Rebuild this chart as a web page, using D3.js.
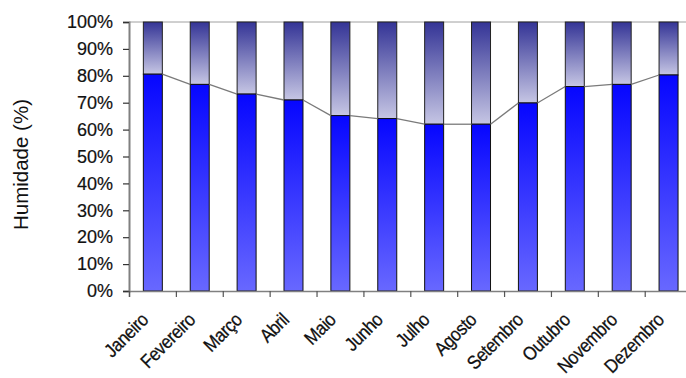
<!DOCTYPE html>
<html>
<head>
<meta charset="utf-8">
<script src="https://cdn.jsdelivr.net/npm/d3@7"></script>
<style>
  html, body { margin: 0; padding: 0; background: #fff; }
  svg { display: block; }
  text { font-family: "Liberation Sans", Arial, sans-serif; fill: #111; }
</style>
</head>
<body>
<svg id="chart" width="686" height="378"></svg>
<script>
// Monthly relative humidity (%)
const months = ["Janeiro", "Fevereiro", "Março", "Abril", "Maio", "Junho",
                "Julho", "Agosto", "Setembro", "Outubro", "Novembro", "Dezembro"];
const humidity = [80.6, 76.8, 73.2, 71.0, 65.2, 64.1, 62.0, 62.0, 69.9, 76.0, 76.8, 80.3];
const yTicks = [0, 10, 20, 30, 40, 50, 60, 70, 80, 90, 100];
const yTitle = "Humidade (%)";

const svg = d3.select("#chart");
const plot = { left: 129, right: 691.6, top: 22, bottom: 291 };

const x = d3.scaleBand().domain(months).range([plot.left, plot.right]).padding(0);
const xEdge = d3.scaleLinear().domain([0, months.length]).range([plot.left, plot.right]);
const y = d3.scaleLinear().domain([0, 100]).range([plot.bottom, plot.top]);
const barW = x.bandwidth() * 0.405;
const barX = m => x(m) + (x.bandwidth() - barW) / 2 + 0.4;

// gradients
const defs = svg.append("defs");
const gBlue = defs.append("linearGradient").attr("id", "gBlue")
  .attr("x1", 0).attr("y1", 0).attr("x2", 0).attr("y2", 1);
gBlue.append("stop").attr("offset", "0%").attr("stop-color", "#0606ff");
gBlue.append("stop").attr("offset", "100%").attr("stop-color", "#6868ff");
const gTop = defs.append("linearGradient").attr("id", "gTop")
  .attr("x1", 0).attr("y1", 0).attr("x2", 0).attr("y2", 1);
gTop.append("stop").attr("offset", "0%").attr("stop-color", "#343496");
gTop.append("stop").attr("offset", "100%").attr("stop-color", "#c6c6e4");

// top border of plot area
svg.append("line")
  .attr("x1", plot.left).attr("x2", 686)
  .attr("y1", plot.top).attr("y2", plot.top)
  .attr("stroke", "#a0a0a0").attr("stroke-width", 1);

// remaining share (upper segment)
svg.append("g").selectAll("rect.rest")
  .data(months)
  .join("rect")
  .attr("class", "rest")
  .attr("x", m => barX(m))
  .attr("width", barW)
  .attr("y", y(100))
  .attr("height", (m, i) => y(humidity[i]) - y(100))
  .attr("fill", "url(#gTop)")
  .attr("stroke", "#222")
  .attr("stroke-width", 1);

// humidity (lower segment)
svg.append("g").selectAll("rect.hum")
  .data(months)
  .join("rect")
  .attr("class", "hum")
  .attr("x", m => barX(m))
  .attr("width", barW)
  .attr("y", (m, i) => y(humidity[i]))
  .attr("height", (m, i) => y(0) - y(humidity[i]))
  .attr("fill", "url(#gBlue)")
  .attr("stroke", "#111")
  .attr("stroke-width", 1);

// series lines joining the tops of neighbouring bars
const pairs = d3.pairs(months.map((m, i) => ({ m, v: humidity[i] })));
svg.append("g").selectAll("line")
  .data(pairs)
  .join("line")
  .attr("x1", d => barX(d[0].m) + barW)
  .attr("y1", d => y(d[0].v))
  .attr("x2", d => barX(d[1].m))
  .attr("y2", d => y(d[1].v))
  .attr("stroke", "#7a7a7a")
  .attr("stroke-width", 1.3);

// y axis
const yAxis = svg.append("g")
  .attr("transform", `translate(${plot.left},0)`)
  .call(d3.axisLeft(y).tickValues(yTicks).tickSize(6).tickPadding(10)
    .tickFormat(d => d + "%"));
yAxis.select(".domain").attr("stroke", "#808080").attr("stroke-width", 2);
yAxis.selectAll(".tick line").attr("stroke", "#333").attr("stroke-width", 1.2);
yAxis.selectAll(".tick text")
  .attr("font-size", 18)
  .attr("font-family", "'Liberation Sans', Arial, sans-serif")
  .attr("fill", "#111")
  .attr("stroke", "#111").attr("stroke-width", 0.2);

// x axis with tick marks between categories
const xAxis = svg.append("g")
  .attr("transform", `translate(0,${plot.bottom})`)
  .call(d3.axisBottom(xEdge).tickValues(d3.range(0, months.length + 1))
    .tickSize(6).tickFormat(""));
xAxis.select(".domain").attr("stroke", "#808080").attr("stroke-width", 1.5);
xAxis.selectAll(".tick line").attr("stroke", "#555").attr("stroke-width", 1.2);

// category labels, rotated
svg.append("g").selectAll("text")
  .data(months)
  .join("text")
  .attr("transform", m => `translate(${x(m) + x.bandwidth() / 2 - 3},321) rotate(-45) scale(1,1.12)`)
  .attr("text-anchor", "end")
  .attr("font-size", 17)
  .attr("letter-spacing", -0.4)
  .attr("stroke", "#111").attr("stroke-width", 0.25)
  .text(m => m);

// y axis title
svg.append("text")
  .attr("transform", "translate(28,164.5) rotate(-90)")
  .attr("text-anchor", "middle")
  .attr("font-size", 20.5)
  .text(yTitle);
</script>
</body>
</html>
